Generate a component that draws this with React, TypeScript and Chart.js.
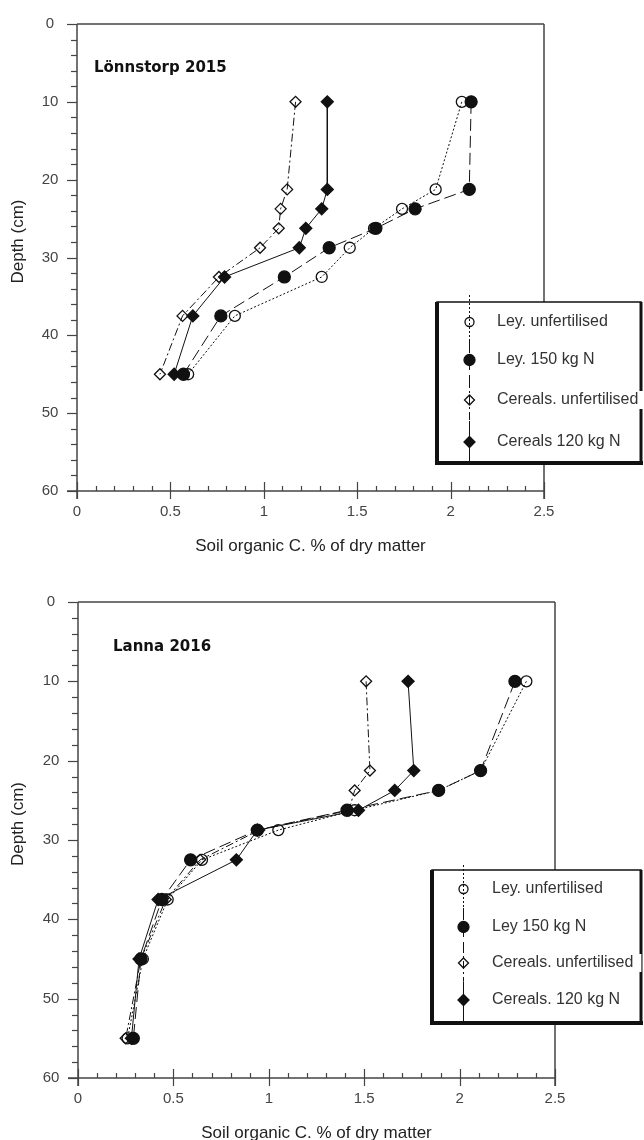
import { useEffect, useRef } from "react";
import { Chart, registerables } from "chart.js";

Chart.register(...registerables);

// Lönnstorp 2015
const depths2015 = [10, 21.25, 23.75, 26.25, 28.75, 32.5, 37.5, 45];
const leyUnfert2015 = [2.06, 1.92, 1.74, 1.59, 1.46, 1.31, 0.845, 0.595];
const ley150_2015 = [2.11, 2.1, 1.81, 1.6, 1.35, 1.11, 0.77, 0.57];
const cerealsUnfert2015 = [1.17, 1.125, 1.09, 1.08, 0.98, 0.76, 0.565, 0.444];
const cereals120_2015 = [1.34, 1.34, 1.31, 1.225, 1.19, 0.79, 0.62, 0.52];
const names2015 = ["Ley. unfertilised", "Ley. 150 kg N", "Cereals. unfertilised", "Cereals 120 kg N"];

// Lanna 2016
const depths2016 = [10, 21.25, 23.75, 26.25, 28.75, 32.5, 37.5, 45, 55];
const leyUnfert2016 = [2.35, 2.11, 1.89, 1.45, 1.05, 0.65, 0.47, 0.34, 0.26];
const ley150_2016 = [2.29, 2.11, 1.89, 1.41, 0.94, 0.59, 0.44, 0.33, 0.29];
const cerealsUnfert2016 = [1.51, 1.53, 1.45, 1.42, 0.95, 0.64, 0.46, 0.33, 0.25];
const cereals120_2016 = [1.73, 1.76, 1.66, 1.47, 0.94, 0.83, 0.42, 0.32, 0.28];
const names2016 = ["Ley. unfertilised", "Ley 150 kg N", "Cereals. unfertilised", "Cereals. 120 kg N"];

const xTickLabels = ["0", "0.5", "1", "1.5", "2", "2.5"];
const yTickLabels = ["0", "10", "20", "30", "40", "50", "60"];
const xTitle = "Soil organic C. % of dry matter";
const yTitle = "Depth (cm)";

const INK = "#111";
const AXIS = "#444";
const SANS = "'Liberation Sans', Arial, sans-serif";

const STYLES = [
  { dash: [2, 2], point: "circle", radius: 5.5, fill: "rgba(0,0,0,0)", legendR: 4.5 },
  { dash: [12, 5], point: "circle", radius: 6, fill: INK, legendR: 5.5 },
  { dash: [8, 3, 2, 3], point: "rectRot", radius: 5.5, fill: "rgba(0,0,0,0)", legendR: 5 },
  { dash: [], point: "rectRot", radius: 6, fill: INK, legendR: 5.5 },
];

interface LegendBox {
  x1: number; y1: number; x2: number; y2: number;
  sampleX: number; lineTop: number; textX: number; rows: number[];
}

interface PanelProps {
  title: string;
  depths: number[];
  series: number[][];
  names: string[];
  padding: { left: number; top: number; right: number; bottom: number };
  titleOffset: { dx: number; dy: number };
  legend: LegendBox;
}

function drawMarker(ctx: CanvasRenderingContext2D, style: string, x: number, y: number, r: number, fill: string) {
  ctx.beginPath();
  if (style === "circle") {
    ctx.arc(x, y, r, 0, Math.PI * 2);
  } else {
    ctx.moveTo(x, y - r);
    ctx.lineTo(x + r, y);
    ctx.lineTo(x, y + r);
    ctx.lineTo(x - r, y);
    ctx.closePath();
  }
  ctx.fillStyle = fill;
  ctx.fill();
  ctx.setLineDash([]);
  ctx.lineWidth = 1.3;
  ctx.strokeStyle = INK;
  ctx.stroke();
}

function Panel({ title, depths, series, names, padding, titleOffset, legend }: PanelProps) {
  const canvasRef = useRef<HTMLCanvasElement>(null);
  const chartRef = useRef<Chart | null>(null);

  useEffect(() => {
    if (!canvasRef.current) return;
    const ctx = canvasRef.current.getContext("2d");
    if (!ctx) return;
    if (chartRef.current) chartRef.current.destroy();

    const line = (c: CanvasRenderingContext2D, x1: number, y1: number, x2: number, y2: number) => {
      c.beginPath();
      c.moveTo(x1, y1);
      c.lineTo(x2, y2);
      c.stroke();
    };

    const axesPlugin = {
      id: "axes",
      beforeDatasetsDraw(chart: Chart) {
        const c = chart.ctx;
        const xs = chart.scales.x;
        const ys = chart.scales.y;
        const { left, right, top, bottom } = chart.chartArea;
        c.save();
        c.strokeStyle = AXIS;
        c.lineWidth = 1.5;
        line(c, left, top, right, top);
        line(c, right, top, right, bottom + 8);
        line(c, left, top, left, bottom + 8);
        line(c, left - 10, bottom, right, bottom);
        c.lineWidth = 1.2;
        // x ticks: minor every 0.1, major every 0.5 (crossing the axis)
        for (let i = 0; i <= 25; i++) {
          const px = Math.round(xs.getPixelForValue(i / 10)) + 0.5;
          if (i % 5 === 0) line(c, px, bottom - 9, px, bottom + 8);
          else line(c, px, bottom - 5, px, bottom);
        }
        // y ticks: minor every 2, major every 10 (outward)
        for (let d = 0; d <= 60; d += 2) {
          const py = Math.round(ys.getPixelForValue(d)) + 0.5;
          if (d % 10 === 0) line(c, left - 10, py, left, py);
          else line(c, left - 6, py, left, py);
        }
        c.fillStyle = AXIS;
        c.font = `15px ${SANS}`;
        c.textAlign = "center";
        c.textBaseline = "middle";
        xTickLabels.forEach((t) => c.fillText(t, xs.getPixelForValue(Number(t)), bottom + 21));
        yTickLabels.forEach((t) => c.fillText(t, left - 27, ys.getPixelForValue(Number(t))));
        c.fillStyle = "#222";
        c.font = `17px ${SANS}`;
        c.fillText(xTitle, (left + right) / 2, bottom + 55);
        c.save();
        c.translate(18, (top + bottom) / 2 - 16);
        c.rotate(-Math.PI / 2);
        c.fillText(yTitle, 0, 0);
        c.restore();
        c.fillStyle = INK;
        c.font = `bold 15px 'DejaVu Sans', sans-serif`;
        c.textAlign = "left";
        c.fillText(title, left + titleOffset.dx, top + titleOffset.dy);
        c.restore();
      },
      afterDraw(chart: Chart) {
        const c = chart.ctx;
        const L = legend;
        c.save();
        c.fillStyle = "#fff";
        c.fillRect(L.x1, L.y1, L.x2 - L.x1, L.y2 - L.y1);
        c.strokeStyle = INK;
        c.lineWidth = 1.5;
        c.strokeRect(L.x1, L.y1, L.x2 - L.x1, L.y2 - L.y1);
        c.lineWidth = 4;
        line(c, L.x1, L.y1, L.x1, L.y2 + 2);
        line(c, L.x1, L.y2, L.x2 + 2, L.y2);
        c.lineWidth = 3;
        line(c, L.x2, L.y1, L.x2, L.y2);
        // sample lines, vertical
        c.lineWidth = 1;
        names.forEach((_, i) => {
          const s = STYLES[i];
          const yA = i === 0 ? L.lineTop : (L.rows[i - 1] + L.rows[i]) / 2;
          const yB = i === names.length - 1 ? L.y2 - 2 : (L.rows[i] + L.rows[i + 1]) / 2;
          c.strokeStyle = INK;
          c.setLineDash(s.dash);
          line(c, L.sampleX + 0.5, yA, L.sampleX + 0.5, yB);
        });
        c.setLineDash([]);
        names.forEach((n, i) => {
          const s = STYLES[i];
          drawMarker(c, s.point, L.sampleX + 0.5, L.rows[i], s.legendR, s.fill);
          c.font = `16px ${SANS}`;
          const w = c.measureText(n).width;
          c.fillStyle = "#fff";
          c.fillRect(L.textX - 2, L.rows[i] - 9, w + 10, 18);
          c.fillStyle = "#333";
          c.textAlign = "left";
          c.textBaseline = "middle";
          c.fillText(n, L.textX, L.rows[i]);
        });
        c.restore();
      },
    };

    chartRef.current = new Chart(ctx, {
      type: "scatter",
      data: {
        datasets: series.map((vals, i) => ({
          label: names[i],
          data: vals.map((v, k) => ({ x: v, y: depths[k] })),
          showLine: true,
          borderColor: INK,
          borderWidth: 1,
          borderDash: STYLES[i].dash,
          pointStyle: STYLES[i].point as any,
          pointRadius: STYLES[i].radius,
          pointBackgroundColor: STYLES[i].fill,
          pointBorderColor: INK,
          pointBorderWidth: 1.3,
          tension: 0,
        })),
      },
      options: {
        responsive: false,
        animation: false,
        layout: { padding },
        plugins: { legend: { display: false }, tooltip: { enabled: false } },
        scales: {
          x: { type: "linear", min: 0, max: 2.5, display: false },
          y: { type: "linear", min: 0, max: 60, reverse: true, display: false },
        },
      },
      plugins: [axesPlugin],
    });

    return () => {
      if (chartRef.current) {
        chartRef.current.destroy();
        chartRef.current = null;
      }
    };
  }, [title, depths, series, names, padding, titleOffset, legend]);

  return <canvas ref={canvasRef} width={644} height={570} style={{ display: "block" }} />;
}

const series2015 = [leyUnfert2015, ley150_2015, cerealsUnfert2015, cereals120_2015];
const series2016 = [leyUnfert2016, ley150_2016, cerealsUnfert2016, cereals120_2016];
const pad2015 = { left: 77, top: 24, right: 100, bottom: 79 };
const pad2016 = { left: 78, top: 32, right: 89, bottom: 62 };
const title2015 = { dx: 17, dy: 44 };
const title2016 = { dx: 35, dy: 45 };
const legend2015: LegendBox = { x1: 437, y1: 302, x2: 641, y2: 463, sampleX: 469, lineTop: 295, textX: 497, rows: [322, 360, 400, 442] };
const legend2016: LegendBox = { x1: 432, y1: 300, x2: 641, y2: 453, sampleX: 463, lineTop: 295, textX: 492, rows: [319, 357, 393, 430] };

export default function App() {
  return (
    <div style={{ position: "absolute", left: 0, top: 0, width: 644, height: 1140, background: "#fff" }}>
      <Panel title="Lönnstorp 2015" depths={depths2015} series={series2015} names={names2015}
        padding={pad2015} titleOffset={title2015} legend={legend2015} />
      <Panel title="Lanna 2016" depths={depths2016} series={series2016} names={names2016}
        padding={pad2016} titleOffset={title2016} legend={legend2016} />
    </div>
  );
}
